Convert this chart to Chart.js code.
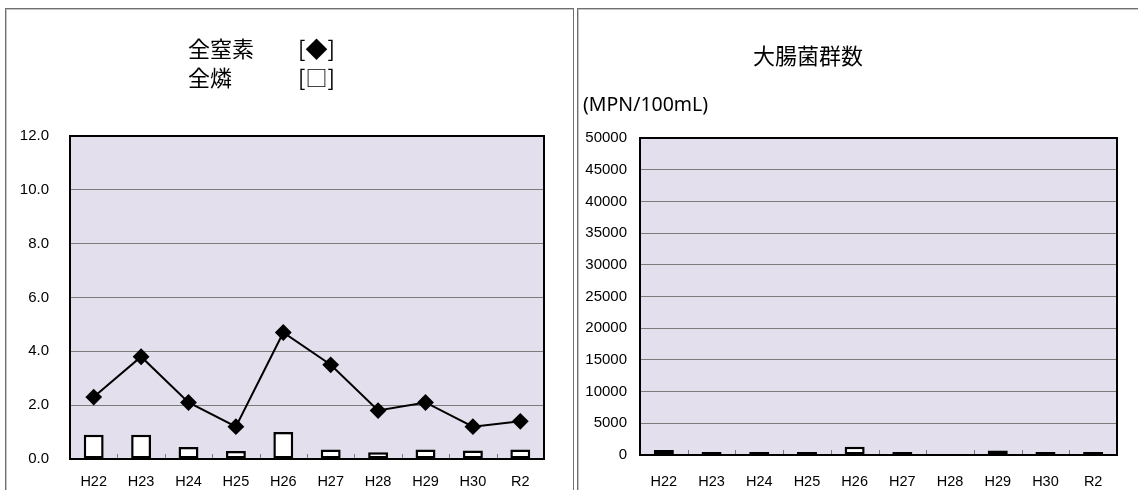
<!DOCTYPE html>
<html>
<head>
<meta charset="utf-8">
<script src="https://cdn.jsdelivr.net/npm/chart.js@4/dist/chart.umd.min.js"></script>
<style>
  html, body { margin:0; padding:0; background:#fff; }
  body { width:1138px; height:490px; overflow:hidden; position:relative; }
  .panel { position:absolute; top:8px; height:500px; border:1px solid #707070; box-shadow: inset 1px 1px 0 #c4c4c4; }
  #panelL { left:5px; width:567px; }
  #panelR { left:577px; width:600px; }
  canvas { position:absolute; }
  #cvL { left:7px; top:10px; }
  #cvR { left:580px; top:10px; }
</style>
</head>
<body>
<div class="panel" id="panelL"></div>
<div class="panel" id="panelR"></div>
<canvas id="cvL" width="565" height="480"></canvas>
<canvas id="cvR" width="558" height="480"></canvas>
<script>
// years on the x axis (shared by both charts)
const years = ['H22','H23','H24','H25','H26','H27','H28','H29','H30','R2'];
// 全窒素 (line, ◆) and 全燐 (bars, □)
const totalN = [2.3, 3.8, 2.1, 1.2, 4.7, 3.5, 1.8, 2.1, 1.2, 1.4];
const totalP = [0.9, 0.9, 0.45, 0.3, 1.0, 0.35, 0.25, 0.35, 0.32, 0.35];
// 大腸菌群数 (MPN/100mL)
const coliform = [800, 40, 30, 30, 1300, 480, null, 700, 170, 140];

const tickFont = { family: "'Liberation Sans', Arial, sans-serif", size: 15 };
const plotBg = '#e4dfec';

// plot box background, border, inner tick marks and free text
function framePlugin(texts) {
  return {
    id: 'frame',
    beforeDatasetsDraw(chart) {
      const a = chart.chartArea, ctx = chart.ctx;
      // small tick marks between categories, pointing inside
      const x = chart.scales.x;
      ctx.save();
      ctx.strokeStyle = '#777';
      ctx.lineWidth = 1;
      for (let i = 1; i < years.length; i++) {
        const px = Math.round((x.getPixelForValue(i - 1) + x.getPixelForValue(i)) / 2) + 0.5;
        ctx.beginPath();
        ctx.moveTo(px, a.bottom);
        ctx.lineTo(px, a.bottom - 5);
        ctx.stroke();
      }
      ctx.restore();
    },
    beforeDraw(chart) {
      const a = chart.chartArea, ctx = chart.ctx;
      ctx.save();
      ctx.fillStyle = plotBg;
      ctx.fillRect(a.left, a.top, a.right - a.left, a.bottom - a.top);
      ctx.restore();
    },
    afterDraw(chart) {
      const a = chart.chartArea, ctx = chart.ctx;
      ctx.save();
      ctx.strokeStyle = '#000';
      ctx.lineWidth = 2;
      ctx.strokeRect(a.left, a.top, a.right - a.left, a.bottom - a.top);
      ctx.fillStyle = '#000';
      ctx.textBaseline = 'middle';
      texts.forEach(t => {
        ctx.font = t.font;
        ctx.textAlign = t.align || 'left';
        ctx.fillText(t.text, t.x, t.y);
      });
      ctx.restore();
    }
  };
}

function baseScales(yMax, yStep, yFmt, yPad, yWidth, xPad, xHeight) {
  return {
    x: {
      offset: true,
      grid: { display: false },
      border: { display: false },
      ticks: { color: '#000', font: { family: tickFont.family, size: 14.5 }, padding: xPad, maxRotation: 0 },
      afterFit(s) { s.height = xHeight; }
    },
    y: {
      min: 0, max: yMax,
      grid: { color: '#7c7c7c', lineWidth: 1, drawTicks: false },
      border: { display: false },
      ticks: { stepSize: yStep, color: '#000', font: tickFont, padding: yPad, callback: yFmt },
      afterFit(s) { s.width = yWidth; }
    }
  };
}

const cjk = "'Noto Sans CJK JP', sans-serif";

new Chart(document.getElementById('cvL'), {
  type: 'bar',
  data: {
    labels: years,
    datasets: [
      {
        type: 'line', label: '全窒素', data: totalN, order: 0,
        borderColor: '#000', borderWidth: 2, backgroundColor: '#000',
        pointStyle: 'rectRot', pointRadius: 7, pointBackgroundColor: '#000', pointBorderColor: '#000',
        tension: 0
      },
      {
        type: 'bar', label: '全燐', data: totalP, order: 1,
        backgroundColor: '#fff', borderColor: '#000', borderWidth: 2.5, borderSkipped: false,
        barPercentage: 0.42, categoryPercentage: 1
      }
    ]
  },
  options: {
    responsive: false, animation: false,
    layout: { padding: { top: 126, right: 28, bottom: 0, left: 0 } },
    plugins: { legend: { display: false }, tooltip: { enabled: false }, title: { display: false } },
    scales: baseScales(12, 2, v => v.toFixed(1), 21, 63, 6, 31)
  },
  plugins: [framePlugin([
    { text: '全窒素', x: 181, y: 39, font: '22px ' + cjk },
    { text: '[◆]', x: 291, y: 39, font: '22px ' + cjk },
    { text: '全燐', x: 181, y: 68, font: '22px ' + cjk },
    { text: '[□]', x: 291, y: 68, font: '22px ' + cjk }
  ])]
});

new Chart(document.getElementById('cvR'), {
  type: 'bar',
  data: {
    labels: years,
    datasets: [
      {
        label: '大腸菌群数', data: coliform,
        backgroundColor: '#fff', borderColor: '#000', borderWidth: 2.5, borderSkipped: false,
        minBarLength: 3,
        barPercentage: 0.42, categoryPercentage: 1
      }
    ]
  },
  options: {
    responsive: false, animation: false,
    layout: { padding: { top: 128, right: 21, bottom: 0, left: 0 } },
    plugins: { legend: { display: false }, tooltip: { enabled: false }, title: { display: false } },
    scales: baseScales(50000, 5000, v => String(v), 13, 60, 10, 35)
  },
  plugins: [framePlugin([
    { text: '大腸菌群数', x: 228, y: 46, font: '22px ' + cjk, align: 'center' },
    { text: '(MPN/100mL)', x: 3, y: 95, font: "19.5px 'Noto Sans', sans-serif" }
  ])]
});
</script>
</body>
</html>
